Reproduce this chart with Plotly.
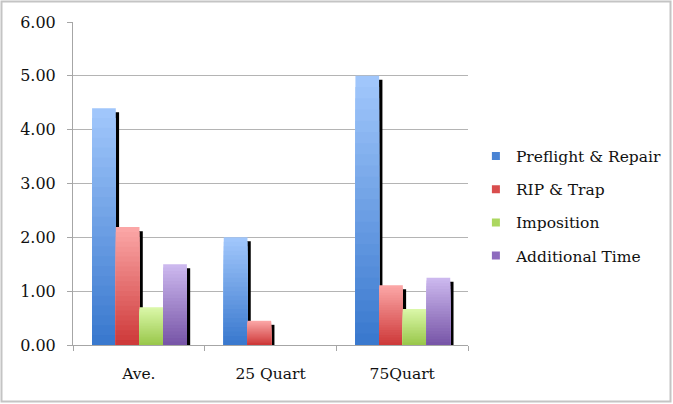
import plotly.graph_objects as go

# Chart data
categories = ["Ave.", "25 Quart", "75Quart"]
series_names = ["Preflight & Repair", "RIP & Trap", "Imposition", "Additional Time"]
preflight_repair = [4.40, 2.00, 5.00]
rip_trap = [2.19, 0.45, 1.11]
imposition = [0.70, 0.0, 0.67]
additional_time = [1.50, 0.0, 1.25]
y_ticks = [0, 1, 2, 3, 4, 5, 6]

series_values = [preflight_repair, rip_trap, imposition, additional_time]

# Gradient end colours (top, bottom) and legend swatch colour per series
top_colors = [(160, 198, 251), (251, 166, 166), (218, 247, 168), (204, 184, 238)]
bottom_colors = [(58, 121, 206), (206, 58, 58), (154, 200, 76), (120, 86, 168)]
swatch_colors = ["#4A84D4", "#D94D4D", "#ACD760", "#8E6BBE"]

FONT = "DejaVu Serif"
TEXT = "#111111"
BAR_W = 0.18
GROUP_START = -0.355
SHADOW_DX = 0.025      # shadow shift to the right (category units)
SHADOW_DY = 0.075      # shadow drop (value units)
LEVELS = 24            # bands used to build the vertical gradient

fig = go.Figure()

# Drop shadows first, so each neighbouring bar covers the previous shadow
for i, vals in enumerate(series_values):
    fig.add_trace(go.Bar(
        x=categories, y=vals, base=[-SHADOW_DY] * len(vals),
        width=BAR_W, offset=GROUP_START + i * BAR_W + SHADOW_DX,
        marker=dict(color="black", line=dict(width=0)),
        showlegend=False, hoverinfo="skip",
    ))

def mix(c1, c2, t):
    return "rgb(%d,%d,%d)" % tuple(round(a + (b - a) * t) for a, b in zip(c1, c2))

# Bars with a light-to-dark vertical gradient built from stacked bands
for i, vals in enumerate(series_values):
    for k in range(LEVELS):
        frac = 1 - k / LEVELS
        fig.add_trace(go.Bar(
            x=categories, y=[v * frac for v in vals],
            width=BAR_W, offset=GROUP_START + i * BAR_W,
            marker=dict(color=mix(top_colors[i], bottom_colors[i], k / (LEVELS - 1)),
                        line=dict(width=0)),
            showlegend=False, hoverinfo="skip",
        ))

# Legend entries with small square swatches
for i, name in enumerate(series_names):
    fig.add_trace(go.Scatter(
        x=[None], y=[None], mode="markers", name=name,
        marker=dict(symbol="square", size=8, color=swatch_colors[i]),
        legendgroup=name,
    ))

W, H = 673, 404
L, R, T, B = 73, 468, 22, 345
pw, ph = R - L, B - T

fig.update_layout(
    width=W, height=H,
    margin=dict(l=L, r=W - R, t=T, b=H - B, autoexpand=False),
    barmode="overlay",
    paper_bgcolor="white", plot_bgcolor="white",
    font=dict(family=FONT, size=15, color=TEXT),
    showlegend=True,
    legend=dict(
        x=1.02, y=(B - 206) / ph, xanchor="left", yanchor="middle",
        font=dict(family=FONT, size=15.5, color=TEXT),
        tracegroupgap=10, traceorder="grouped",
        bgcolor="rgba(0,0,0,0)",
    ),
    xaxis=dict(
        type="category", range=[-0.5, 2.5],
        showgrid=False, showline=True, linecolor="#A6A6A6", linewidth=1,
        ticks="outside", tickson="boundaries", ticklen=5, tickcolor="#A6A6A6",
        ticklabelstandoff=14,
        tickfont=dict(family=FONT, size=15.5, color=TEXT),
        zeroline=False, fixedrange=True,
    ),
    yaxis=dict(
        range=[0, 6], tickvals=y_ticks,
        ticktext=["%.2f" % v for v in y_ticks],
        showgrid=True, gridcolor="#B4B4B4", gridwidth=1,
        showline=True, linecolor="#A6A6A6", linewidth=1,
        ticks="outside", ticklen=5, tickcolor="#A6A6A6",
        ticklabelstandoff=8,
        tickfont=dict(family=FONT, size=16, color=TEXT),
        zeroline=False, fixedrange=True,
    ),
)

# Outer frame around the whole chart
fig.add_shape(
    type="rect", xref="paper", yref="paper",
    x0=(1.5 - L) / pw, x1=(670.5 - L) / pw,
    y0=(B - 401.5) / ph, y1=(B - 1.5) / ph,
    line=dict(color="#C4C4C4", width=2), fillcolor="rgba(0,0,0,0)", layer="below",
)

fig.write_html("out.html")
